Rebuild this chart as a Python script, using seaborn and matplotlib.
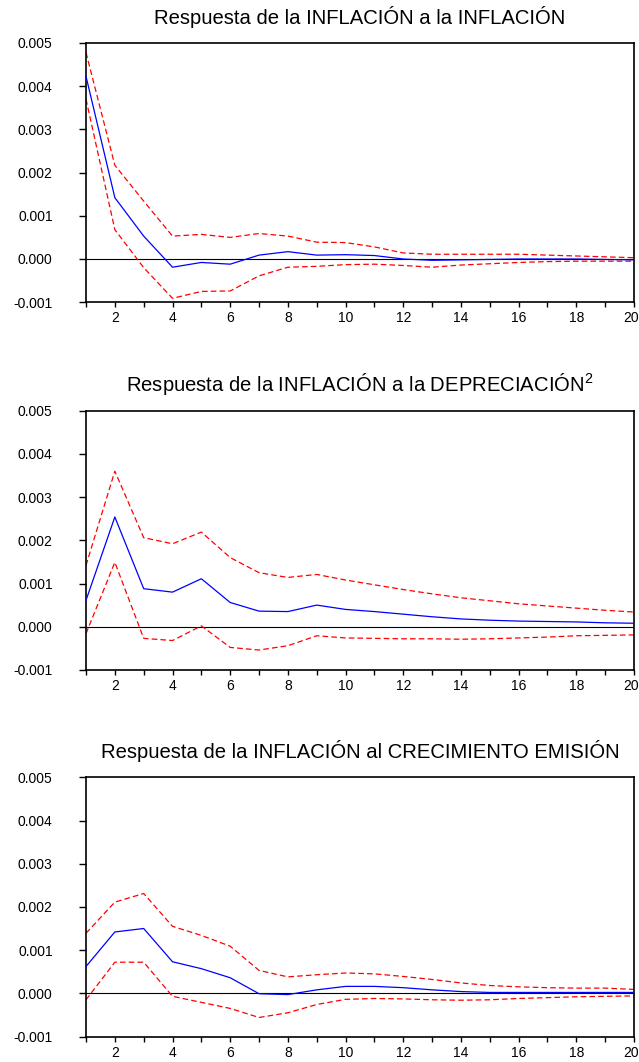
import numpy as np
import pandas as pd
import matplotlib
matplotlib.use("Agg")
import matplotlib.pyplot as plt
import matplotlib.transforms as mtransforms
import seaborn as sns

# ---------------- data ----------------
horizon = list(range(1, 21))

titles = [
    "Respuesta de la INFLACIÓN a la INFLACIÓN",
    "Respuesta de la INFLACIÓN a la DEPRECIACIÓN$^{2}$",
    "Respuesta de la INFLACIÓN al CRECIMIENTO EMISIÓN",
]

# Panel 1: inflation -> inflation
inf_inf_resp = [0.00423, 0.00142, 0.00053, -0.00019, -0.00008, -0.00012, 0.00009, 0.00017, 0.00009, 0.00010,
                0.00008, 0.00000, -0.00003, -0.00002, -0.00001, 0.00000, 0.00000, 0.00000, -0.00001, -0.00002]
inf_inf_upper = [0.00478, 0.00217, 0.00134, 0.00053, 0.00057, 0.00050, 0.00059, 0.00053, 0.00039, 0.00038,
                 0.00028, 0.00014, 0.00011, 0.00011, 0.00011, 0.00011, 0.00009, 0.00007, 0.00005, 0.00003]
inf_inf_lower = [0.00370, 0.00068, -0.00020, -0.00091, -0.00075, -0.00074, -0.00039, -0.00019, -0.00017, -0.00013,
                 -0.00012, -0.00015, -0.00019, -0.00014, -0.00011, -0.00008, -0.00006, -0.00005, -0.00005, -0.00005]

# Panel 2: inflation -> depreciation
inf_dep_resp = [0.00061, 0.00254, 0.00088, 0.00080, 0.00111, 0.00056, 0.00036, 0.00035, 0.00050, 0.00040,
                0.00035, 0.00029, 0.00023, 0.00018, 0.00015, 0.00013, 0.00012, 0.00011, 0.00009, 0.00008]
inf_dep_upper = [0.00142, 0.00360, 0.00206, 0.00192, 0.00219, 0.00160, 0.00125, 0.00114, 0.00121, 0.00108,
                 0.00097, 0.00086, 0.00076, 0.00067, 0.00060, 0.00053, 0.00048, 0.00043, 0.00038, 0.00034]
inf_dep_lower = [-0.00016, 0.00149, -0.00027, -0.00032, 0.00002, -0.00048, -0.00054, -0.00044, -0.00021, -0.00026,
                 -0.00027, -0.00028, -0.00028, -0.00029, -0.00028, -0.00026, -0.00024, -0.00021, -0.00020, -0.00019]

# Panel 3: inflation -> money growth
inf_em_resp = [0.00062, 0.00142, 0.00150, 0.00073, 0.00057, 0.00036, -0.00001, -0.00003, 0.00008, 0.00016,
               0.00016, 0.00013, 0.00008, 0.00004, 0.00002, 0.00002, 0.00002, 0.00002, 0.00002, 0.00002]
inf_em_upper = [0.00139, 0.00211, 0.00231, 0.00155, 0.00134, 0.00109, 0.00053, 0.00038, 0.00043, 0.00047,
                0.00045, 0.00039, 0.00032, 0.00024, 0.00018, 0.00015, 0.00013, 0.00012, 0.00012, 0.00009]
inf_em_lower = [-0.00015, 0.00072, 0.00072, -0.00007, -0.00021, -0.00035, -0.00056, -0.00045, -0.00026, -0.00014,
                -0.00012, -0.00013, -0.00015, -0.00016, -0.00015, -0.00012, -0.00010, -0.00008, -0.00007, -0.00006]

y_ticks = [-0.001, 0.000, 0.001, 0.002, 0.003, 0.004, 0.005]
y_tick_labels = ["-0.001", "0.000", "0.001", "0.002", "0.003", "0.004", "0.005"]
x_major = [2, 4, 6, 8, 10, 12, 14, 16, 18, 20]
x_minor = [1, 3, 5, 7, 9, 11, 13, 15, 17, 19]

panels = [
    (inf_inf_resp, inf_inf_upper, inf_inf_lower),
    (inf_dep_resp, inf_dep_upper, inf_dep_lower),
    (inf_em_resp, inf_em_upper, inf_em_lower),
]

# ---------------- style ----------------
sns.set_theme(style="ticks")
plt.rcParams["font.family"] = ["Liberation Sans", "DejaVu Sans"]
plt.rcParams["mathtext.fontset"] = "custom"
plt.rcParams["mathtext.rm"] = "Liberation Sans"
plt.rcParams["mathtext.default"] = "regular"
plt.rcParams["axes.unicode_minus"] = False

W, H = 639, 1062
fig = plt.figure(figsize=(W / 100, H / 100), dpi=100)

left_px, right_px = 86, 634
tops = [43, 410.7, 777.3]
height_px = 259.2

for i, (resp, upper, lower) in enumerate(panels):
    top = tops[i]
    ax = fig.add_axes([left_px / W, 1 - (top + height_px) / H,
                       (right_px - left_px) / W, height_px / H])
    df = pd.DataFrame({"h": horizon, "resp": resp, "upper": upper, "lower": lower})

    ax.axhline(0, color="black", linewidth=0.8, zorder=1)
    sns.lineplot(data=df, x="h", y="upper", ax=ax, color="#FF0000",
                 linewidth=0.9, linestyle=(0, (4.5, 2.5)), zorder=2)
    sns.lineplot(data=df, x="h", y="lower", ax=ax, color="#FF0000",
                 linewidth=0.9, linestyle=(0, (4.5, 2.5)), zorder=2)
    sns.lineplot(data=df, x="h", y="resp", ax=ax, color="#0000FF",
                 linewidth=0.9, zorder=3)

    ax.set_xlim(1, 20)
    ax.set_ylim(-0.001, 0.005)
    ax.set_yticks(y_ticks)
    ax.set_yticklabels(y_tick_labels)
    ax.set_xticks(x_major)
    ax.set_xticklabels([str(v) for v in x_major])
    ax.set_xticks(x_minor, minor=True)
    ax.set_xlabel("")
    ax.set_ylabel("")

    ax.tick_params(axis="y", direction="out", length=5, width=1.0,
                   pad=19, labelsize=10, colors="black")
    ax.tick_params(axis="x", which="both", direction="out", length=3.5, width=1.0,
                   pad=3, labelsize=10, colors="black")
    for s in ax.spines.values():
        s.set_visible(True)
        s.set_color("black")
        s.set_linewidth(1.2)

    # nudge the last x label so it stays inside the figure, as in the reference
    last = ax.get_xticklabels()[-1]
    last.set_transform(last.get_transform() +
                       mtransforms.ScaledTranslation(-3 / 100, 0, fig.dpi_scale_trans))

    ax.set_title(titles[i], fontsize=14.6, pad=14, color="black")

fig.savefig("out.png", dpi=100)
